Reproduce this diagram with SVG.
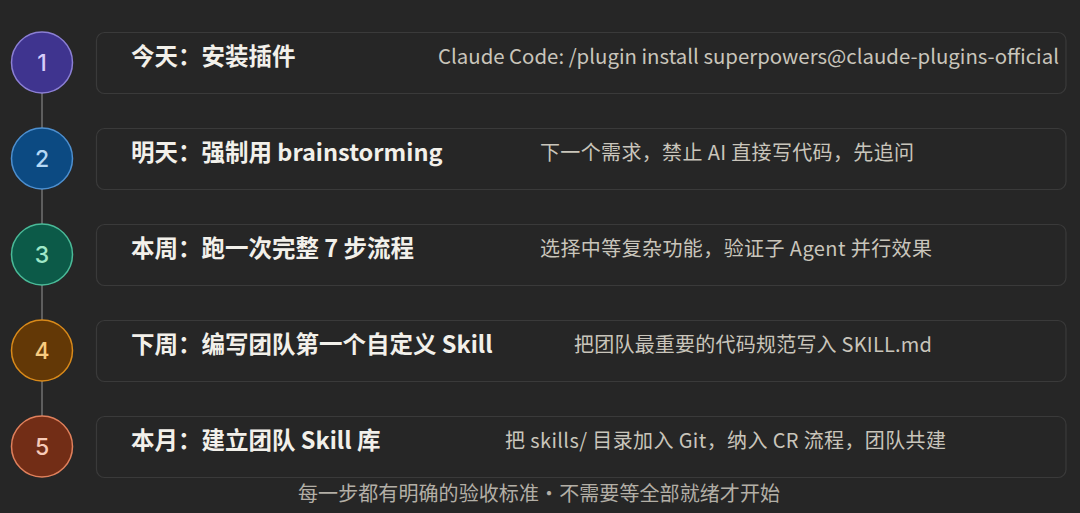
<svg xmlns="http://www.w3.org/2000/svg" width="1080" height="513" viewBox="0 0 1080 513">
  <style>
    .bg { fill: #262626; }
    .box { fill: #262626; stroke: #3a3a3a; stroke-width: 1.2; }
    .title { font-family: "Noto Sans CJK SC", "Inter", sans-serif; font-size: 23.5px; font-weight: 700; fill: #f2f0ea; }
    .desc { font-family: "Noto Sans CJK SC", "Inter", sans-serif; font-size: 20px; fill: #c9c5bb; }
    .num { font-family: "Inter", "Noto Sans CJK SC", sans-serif; font-size: 23px; font-weight: 500; text-anchor: middle; }
    .foot { font-family: "Noto Sans CJK SC", sans-serif; font-size: 20px; fill: #b3afa6; }
    .conn { stroke: #5e5e5e; stroke-width: 2; fill: none; }
  </style>
  <rect class="bg" x="0" y="0" width="1080" height="513"/>

  <g id="connectors">
    <line class="conn" x1="42" y1="93" x2="42" y2="128"/>
    <line class="conn" x1="42" y1="189" x2="42" y2="224"/>
    <line class="conn" x1="42" y1="285" x2="42" y2="320"/>
    <line class="conn" x1="42" y1="381" x2="42" y2="416"/>
  </g>

  <g id="step1">
    <circle cx="42" cy="62.5" r="30.5" fill="#3f348f" stroke="#8b7fd4" stroke-width="1.5"/>
    <text class="num" x="42" y="70.5" fill="#d6cdfa">1</text>
    <rect class="box" x="96.5" y="32.5" width="969.5" height="61" rx="8"/>
    <text class="title" x="131" y="65">今天：安装插件</text>
    <text class="desc" x="438" y="64" textLength="621" lengthAdjust="spacingAndGlyphs">Claude Code: /plugin install superpowers@claude-plugins-official</text>
  </g>

  <g id="step2">
    <circle cx="42" cy="158.5" r="30.5" fill="#0c4a82" stroke="#4d8fcf" stroke-width="1.5"/>
    <text class="num" x="42" y="166.5" fill="#b5d8f5">2</text>
    <rect class="box" x="96.5" y="128.5" width="969.5" height="61" rx="8"/>
    <text class="title" x="131" y="161">明天：强制用 brainstorming</text>
    <text class="desc" x="540" y="160" textLength="374">下一个需求，禁止 AI 直接写代码，先追问</text>
  </g>

  <g id="step3">
    <circle cx="42" cy="254.5" r="30.5" fill="#0c5a48" stroke="#4aba98" stroke-width="1.5"/>
    <text class="num" x="42" y="262.5" fill="#9fe8c8">3</text>
    <rect class="box" x="96.5" y="224.5" width="969.5" height="61" rx="8"/>
    <text class="title" x="131" y="257">本周：跑一次完整 7 步流程</text>
    <text class="desc" x="540" y="256" textLength="392">选择中等复杂功能，验证子 Agent 并行效果</text>
  </g>

  <g id="step4">
    <circle cx="42" cy="350.5" r="30.5" fill="#633806" stroke="#d98a1a" stroke-width="1.5"/>
    <text class="num" x="42" y="358.5" fill="#f8cc80">4</text>
    <rect class="box" x="96.5" y="320.5" width="969.5" height="61" rx="8"/>
    <text class="title" x="131" y="353">下周：编写团队第一个自定义 Skill</text>
    <text class="desc" x="574" y="352" textLength="358">把团队最重要的代码规范写入 SKILL.md</text>
  </g>

  <g id="step5">
    <circle cx="42" cy="446.5" r="30.5" fill="#722d16" stroke="#e0805c" stroke-width="1.5"/>
    <text class="num" x="42" y="454.5" fill="#f8cab8">5</text>
    <rect class="box" x="96.5" y="416.5" width="969.5" height="61" rx="8"/>
    <text class="title" x="131" y="449">本月：建立团队 Skill 库</text>
    <text class="desc" x="505" y="448" textLength="441">把 skills/ 目录加入 Git，纳入 CR 流程，团队共建</text>
  </g>

  <g id="footer">
    <text class="foot" x="298" y="501" textLength="482">每一步都有明确的验收标准·不需要等全部就绪才开始</text>
  </g>
</svg>
